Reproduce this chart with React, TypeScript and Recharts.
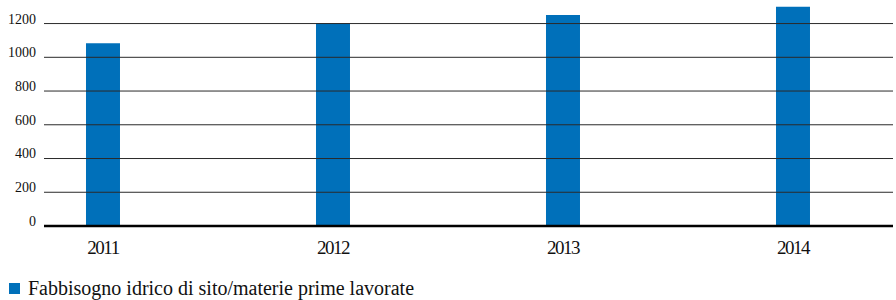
import { Bar, BarChart, Legend, ReferenceLine, XAxis, YAxis } from "recharts";

// values
const years = [2011, 2012, 2013, 2014];
const waterNeed = [1083, 1204, 1250, 1300];
const yTicks = [0, 200, 400, 600, 800, 1000, 1200];

const SERIES_NAME = "Fabbisogno idrico di sito/materie prime lavorate";
const BLUE = "#0070BA";
const FONT = "'Liberation Serif', 'Times New Roman', serif";

const data = years.map((year, i) => ({ year, value: waterNeed[i] }));

function LegendRow() {
  return (
    <div style={{ display: "flex", alignItems: "center", fontFamily: FONT, fontSize: 20, color: "#111", lineHeight: "22px" }}>
      <span style={{ display: "inline-block", width: 11, height: 11, background: BLUE, marginRight: 8 }} />
      {SERIES_NAME}
    </div>
  );
}

export default function App() {
  return (
    <div style={{ position: "absolute", left: 0, top: 0, width: 896, height: 300, background: "#fff" }}>
      <BarChart width={896} height={300} data={data} margin={{ top: 5, right: 3, bottom: 44, left: 0 }}>
        {/* horizontal rules at each y tick (no line at the top edge) */}
        {yTicks.map((v) => (
          <ReferenceLine key={v} y={v} stroke="#2a2a2a" strokeWidth={1} />
        ))}
        <XAxis
          dataKey="year"
          type="number"
          domain={[2010.7435, 2014.4348]}
          ticks={years}
          allowDataOverflow
          height={30}
          tickLine={false}
          tickSize={0}
          tickMargin={15}
          axisLine={{ stroke: "#000", strokeWidth: 2.5 }}
          tick={{ fontFamily: FONT, fontSize: 19, fill: "#111", letterSpacing: -1.5 }}
        />
        <YAxis
          type="number"
          domain={[0, 1310]}
          ticks={yTicks}
          width={44}
          axisLine={false}
          tickLine={false}
          tickSize={0}
          tickMargin={8}
          tick={{ fontFamily: FONT, fontSize: 14, fill: "#111", dy: -5 }}
        />
        <Legend
          layout="horizontal"
          align="center"
          verticalAlign="middle"
          content={<LegendRow />}
          wrapperStyle={{ left: 9, top: 277, width: 600 }}
        />
        <Bar dataKey="value" name={SERIES_NAME} fill={BLUE} barSize={34} isAnimationActive={false} />
      </BarChart>
    </div>
  );
}
